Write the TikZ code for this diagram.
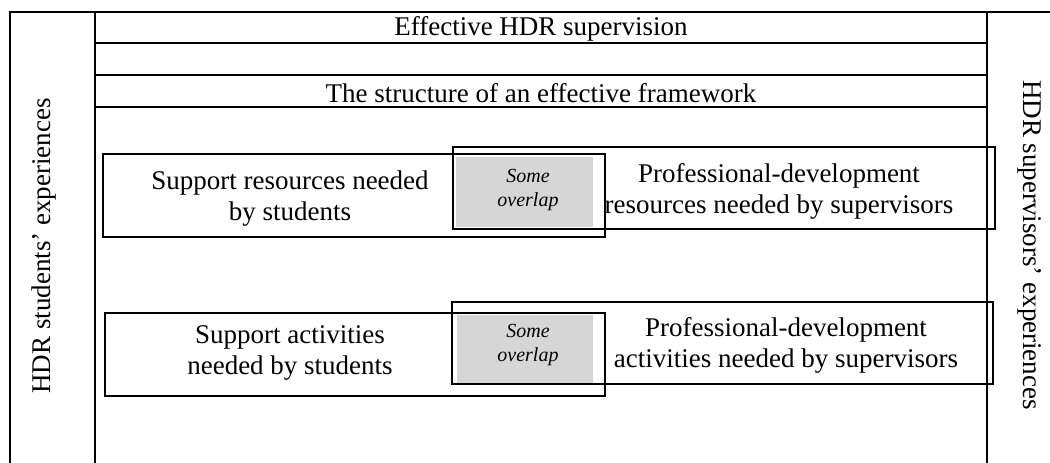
\documentclass[tikz,border=0pt]{standalone}
\usepackage{fontspec}
\setmainfont{Liberation Serif}
\begin{document}
\begin{tikzpicture}[x=1pt,y=-1pt,
  frame/.style={line width=2.4pt},
  boxline/.style={draw, line width=1.8pt},
  maintext/.style={font=\fontsize{27}{31}\selectfont, align=center, inner sep=0pt},
  overlaptext/.style={font=\fontsize{20}{24}\selectfont\itshape, align=center, inner sep=0pt},
  greybox/.style={fill=black!16, draw=none}]
\useasboundingbox (0,0) rectangle (1050,463);
% outer frame
\draw[frame] (10,463) -- (10,12) -- (1050,12);
\draw[frame] (95,12) -- (95,463);
\draw[frame] (987,12) -- (987,463);
\foreach \yy in {43,75,107} \draw[frame] (95,\yy) -- (987,\yy);
% row 1
\fill[black!16] (456,157) rectangle (593,227);
\draw[boxline] (103,154) rectangle (605,237);
\draw[boxline] (453,147) rectangle (995,229);
% row 2
\fill[black!16] (457,315) rectangle (593,383);
\draw[boxline] (105,313) rectangle (605,396);
\draw[boxline] (452,302) rectangle (993,384);
% texts
\node[maintext] (t1) at (541,29) {Effective HDR supervision};
\node[maintext] (t2) at (541,93) {The structure of an effective framework};
\node[maintext, rotate=90] (ls) at (44,246) {HDR students’ experiences};
\node[maintext, rotate=-90] (rs) at (1030,245) {HDR supervisors’ experiences};
\node[maintext] (sr) at (290,199) {Support resources needed\\by students};
\node[maintext] (pr) at (779,191) {Professional-development\\resources needed by supervisors};
\node[overlaptext] (o1) at (528,190) {Some\\overlap};
\node[maintext] (sa) at (290,353) {Support activities\\needed by students};
\node[maintext] (pa) at (786,345) {Professional-development\\activities needed by supervisors};
\node[overlaptext] (o2) at (528,345) {Some\\overlap};
\end{tikzpicture}
\end{document}
